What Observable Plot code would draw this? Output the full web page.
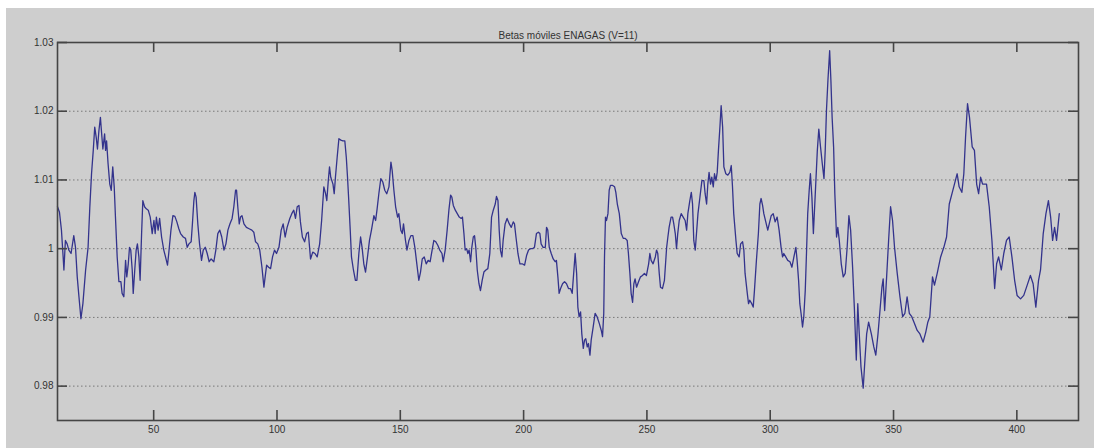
<!DOCTYPE html>
<html><head><meta charset="utf-8">
<script src="https://cdn.jsdelivr.net/npm/d3@7"></script>
<script src="https://cdn.jsdelivr.net/npm/@observablehq/plot@0.6"></script>
<style>
html,body{margin:0;padding:0;background:#fff;width:1094px;height:448px;overflow:hidden}
#chart{position:absolute;left:6px;top:8px;width:1088px;height:440px;background:#cecece}
</style></head><body><div id="chart"></div>
<script>
const title = "Betas móviles ENAGAS (V=11)";
const xTicks = [50, 100, 150, 200, 250, 300, 350, 400];
const yTicks = [0.98, 0.99, 1, 1.01, 1.02, 1.03];
const yTickLabels = ["0.98", "0.99", "1", "1.01", "1.02", "1.03"];
const gridLevels = [0.98, 0.99, 1, 1.01, 1.02];

const t = [
11,11.8,12.6,13.2,13.6,14.2,14.9,15.6,16.5,17.6,18.3,19.0,19.7,20.5,21.3,22.4,23.4,24.1,24.8,25.5,
26.1,26.7,27.2,27.8,28.4,28.8,29.4,30.1,30.5,30.9,31.5,32.2,32.8,33.4,34.0,34.5,35.2,35.9,36.7,37.2,
37.9,38.6,39.1,39.7,40.2,40.7,41.3,41.7,42.4,42.9,43.4,44.0,44.5,45.1,45.6,46.3,47.0,47.8,48.6,49.4,
50.1,50.6,51.1,51.8,52.4,53.2,54.1,54.8,55.6,56.1,57.0,57.8,58.6,59.4,60.2,
60.9,62.0,62.9,63.6,64.3,65.2,65.7,66.3,66.7,67.2,67.9,68.6,69.4,70.1,70.9,71.7,72.5,73.3,74.4,75.2,
76.0,76.8,77.6,78.5,79.3,80.1,80.9,81.8,82.5,83.2,83.6,84.1,84.7,85.2,85.8,86.6,87.6,88.7,89.8,90.6,
91.3,92.2,93.0,93.9,94.7,95.1,95.8,96.6,97.4,98.2,99.0,99.8,100.8,101.7,102.5,103.3,104.1,105.2,106.0,106.8,
107.5,108.2,108.9,109.5,110.3,111.2,112.0,112.7,
113.6,114.5,115.4,116.3,117.3,118.1,119.0,119.7,120.2,120.8,121.3,121.8,122.7,123.2,123.7,124.4,125.1,125.9,126.7,127.5,
128.1,128.6,129.1,129.7,130.2,131.0,131.8,132.4,133.2,133.9,134.5,135.2,135.9,136.7,137.5,138.3,139.3,140.0,140.6,141.3,
142.1,142.9,143.7,144.5,145.4,146.2,146.7,147.4,148.1,148.9,149.4,150.2,150.8,151.3,152.1,152.7,153.5,154.3,155.1,155.9,
156.7,157.5,158.2,158.9,159.7,160.5,161.3,162.1,162.9,
163.6,164.4,165.2,166.0,166.9,167.4,168.2,169.0,169.7,170.4,170.9,171.5,172.3,173.1,173.9,174.7,175.2,175.8,176.3,176.9,
177.4,177.9,178.5,179.0,179.6,180.1,180.6,181.2,181.9,182.5,183.2,183.9,184.7,185.5,186.3,187.0,187.7,188.5,189.0,189.6,
190.1,190.6,191.2,191.7,192.5,193.3,194.2,195.0,195.8,196.3,196.9,197.7,198.5,199.4,200.4,201.2,202.0,202.8,203.6,204.4,
205.2,206.0,206.6,207.1,207.9,208.8,209.3,209.8,210.4,211.2,212.0,212.8,213.3,213.9,214.4,215.0,
215.8,216.6,217.4,218.2,219.0,219.7,220.4,220.9,221.5,222.0,222.5,223.1,223.6,224.2,224.7,225.2,225.8,226.3,226.9,227.4,
228.2,229.0,229.8,230.7,231.5,232.0,232.5,232.8,233.2,233.6,234.2,234.7,235.2,236.1,236.9,237.4,238.0,238.8,239.6,240.4,
241.2,242.0,242.5,243.1,243.6,244.2,244.7,245.2,245.8,246.6,247.4,248.2,249.0,249.8,250.7,251.2,251.7,252.5,253.4,253.9,
254.4,255.0,255.5,256.3,257.1,258.0,258.5,259.0,259.8,260.4,260.9,261.5,262.0,262.5,263.1,263.9,264.7,265.5,266.1,266.6,
267.4,268.0,268.5,269.0,269.6,270.1,270.7,271.5,272.3,273.1,273.6,274.2,274.7,275.2,275.8,276.3,276.9,277.4,278.0,278.5,
279.0,279.6,280.1,280.7,281.2,282.0,282.8,283.6,284.2,284.7,285.2,286.1,286.6,287.4,288.0,288.8,289.3,289.8,290.7,291.2,
291.7,292.5,293.1,293.6,294.4,295.2,295.8,296.3,296.9,297.4,298.2,299.0,299.6,300.4,301.2,302.0,302.8,303.6,304.4,305.0,
305.5,306.3,307.1,308.0,308.8,309.6,310.4,310.9,311.5,312.0,312.5,313.1,313.6,314.2,314.7,315.2,315.8,316.3,316.9,317.5,
318.2,319.1,319.7,320.4,321.1,321.8,322.3,322.8,323.4,324.1,324.6,325.1,325.7,326.2,326.9,327.4,328.0,328.8,329.6,330.4,
331.2,331.9,332.6,333.4,334.1,334.9,335.5,336.1,336.8,337.7,338.4,339.1,339.9,341.0,342.0,342.8,343.7,344.5,345.3,345.8,
346.4,347.2,348.0,348.8,349.6,350.4,351.5,352.6,353.7,354.6,355.5,356.4,357.4,358.5,359.6,360.7,362.0,363.1,363.9,364.7,
365.8,366.6,367.7,369.1,370.4,371.5,372.6,373.7,374.7,375.8,376.6,377.7,378.5,379.2,380.0,380.8,381.9,382.8,383.7,384.5,
385.3,386.1,387.7,388.8,389.9,391.0,391.8,392.6,393.7,394.7,395.8,396.9,398.0,399.1,400.1,401.5,402.8,404.2,405.5,406.6,
407.7,408.8,409.6,410.7,411.8,412.8,413.7,414.5,415.3,416.1,417.2
];

const beta = [
1.0061,1.0053,1.0027,0.9993,0.9969,1.0012,1.0007,0.9998,0.9993,1.0019,1.0002,0.9959,0.9930,0.9898,0.9920,0.9969,1.0002,1.0060,1.0109,1.0143,
1.0177,1.0162,1.0145,1.0172,1.0191,1.0172,1.0145,1.0167,1.0143,1.0157,1.0124,1.0094,1.0085,1.0119,1.0090,1.0046,0.9988,0.9952,0.9952,0.9935,
0.9930,0.9983,0.9959,0.9978,1.0002,0.9998,0.9969,0.9935,0.9973,0.9998,1.0007,0.9988,0.9954,1.0022,1.0070,1.0061,1.0058,1.0056,1.0046,1.0022,
1.0041,1.0022,1.0046,1.0027,1.0044,1.0017,0.9998,0.9988,0.9976,0.9993,1.0027,1.0048,1.0047,1.0039,1.0029,
1.0022,1.0017,1.0015,1.0002,1.0007,1.0010,1.0036,1.0070,1.0082,1.0075,1.0036,1.0007,0.9983,0.9998,1.0002,0.9993,0.9981,0.9985,0.9981,0.9998,
1.0022,1.0027,1.0017,0.9998,1.0007,1.0027,1.0036,1.0044,1.0061,1.0085,1.0085,1.0061,1.0036,1.0046,1.0048,1.0036,1.0031,1.0029,1.0027,1.0024,
1.0010,1.0007,0.9998,0.9973,0.9944,0.9956,0.9976,0.9973,0.9971,0.9988,0.9998,0.9993,1.0002,1.0027,1.0036,1.0017,1.0031,1.0044,1.0051,1.0056,
1.0044,1.0061,1.0063,1.0039,1.0017,1.0010,1.0022,1.0024,
0.9985,0.9995,0.9993,0.9988,1.0007,1.0041,1.0090,1.0080,1.0070,1.0099,1.0119,1.0104,1.0094,1.0080,1.0104,1.0133,1.0160,1.0158,1.0157,1.0157,
1.0133,1.0104,1.0070,1.0027,0.9988,0.9969,0.9954,0.9954,0.9993,1.0017,1.0002,0.9978,0.9966,0.9988,1.0012,1.0027,1.0048,1.0041,1.0058,1.0080,
1.0102,1.0097,1.0085,1.0080,1.0090,1.0126,1.0114,1.0085,1.0061,1.0046,1.0051,1.0027,1.0022,1.0036,1.0012,0.9998,1.0012,1.0019,1.0019,1.0002,
0.9978,0.9954,0.9966,0.9985,0.9988,0.9978,0.9983,0.9981,0.9998,
1.0012,1.0010,1.0005,0.9998,0.9993,0.9981,0.9998,1.0027,1.0056,1.0078,1.0075,1.0063,1.0056,1.0051,1.0046,1.0044,1.0046,1.0022,0.9998,1.0000,
0.9993,0.9998,0.9981,1.0002,1.0017,1.0019,1.0002,0.9969,0.9949,0.9939,0.9954,0.9966,0.9969,0.9971,0.9993,1.0046,1.0056,1.0065,1.0076,1.0070,
1.0027,0.9998,0.9988,1.0012,1.0036,1.0044,1.0036,1.0031,1.0039,1.0036,1.0017,0.9993,0.9978,0.9978,0.9976,0.9990,0.9998,1.0000,1.0000,1.0002,
1.0022,1.0024,1.0022,1.0007,1.0002,1.0002,1.0031,1.0027,1.0002,0.9993,0.9985,0.9981,0.9983,0.9959,0.9935,0.9942,
0.9949,0.9952,0.9949,0.9942,0.9942,0.9935,0.9969,0.9993,0.9964,0.9915,0.9901,0.9908,0.9876,0.9855,0.9867,0.9869,0.9857,0.9862,0.9845,0.9867,
0.9886,0.9906,0.9901,0.9891,0.9881,0.9872,0.9906,0.9988,1.0046,1.0041,1.0051,1.0085,1.0092,1.0092,1.0090,1.0082,1.0065,1.0051,1.0022,1.0015,
1.0015,1.0012,0.9993,0.9964,0.9935,0.9922,0.9949,0.9956,0.9944,0.9952,0.9959,0.9961,0.9964,0.9961,0.9978,0.9993,0.9983,0.9978,0.9988,0.9998,
0.9993,0.9964,0.9944,0.9942,0.9954,1.0002,1.0017,1.0031,1.0046,1.0046,1.0036,1.0022,1.0000,1.0022,1.0041,1.0051,1.0046,1.0041,1.0027,1.0051,
1.0070,1.0082,1.0065,1.0012,0.9998,1.0022,1.0051,1.0075,1.0099,1.0099,1.0080,1.0065,1.0094,1.0111,1.0094,1.0104,1.0090,1.0109,1.0099,1.0111,
1.0143,1.0177,1.0208,1.0177,1.0119,1.0109,1.0107,1.0111,1.0121,1.0090,1.0051,1.0012,0.9993,0.9988,1.0007,1.0010,0.9998,0.9964,0.9935,0.9920,
0.9925,0.9920,0.9915,0.9939,0.9983,1.0022,1.0065,1.0073,1.0063,1.0051,1.0039,1.0027,1.0036,1.0048,1.0051,1.0039,1.0046,1.0027,1.0002,0.9988,
0.9993,0.9988,0.9983,0.9981,0.9973,0.9988,1.0002,0.9983,0.9954,0.9920,0.9906,0.9886,0.9901,0.9939,0.9993,1.0051,1.0085,1.0109,1.0075,1.0022,
1.0075,1.0143,1.0174,1.0148,1.0124,1.0102,1.0143,1.0201,1.0245,1.0288,1.0245,1.0191,1.0148,1.0080,1.0017,1.0031,1.0012,0.9978,0.9959,0.9964,
1.0002,1.0048,1.0027,0.9973,0.9915,0.9838,0.9920,0.9876,0.9828,0.9797,0.9838,0.9876,0.9893,0.9876,0.9857,0.9845,0.9876,0.9910,0.9944,0.9956,
0.9910,0.9959,1.0012,1.0061,1.0041,1.0002,0.9964,0.9930,0.9901,0.9906,0.9930,0.9906,0.9901,0.9891,0.9881,0.9876,0.9864,0.9879,0.9893,0.9901,
0.9959,0.9947,0.9964,0.9988,1.0002,1.0017,1.0065,1.0080,1.0094,1.0109,1.0090,1.0082,1.0109,1.0162,1.0211,1.0191,1.0148,1.0143,1.0094,1.0080,
1.0104,1.0094,1.0094,1.0061,1.0012,0.9942,0.9978,0.9988,0.9969,0.9993,1.0012,1.0017,0.9988,0.9954,0.9932,0.9927,0.9932,0.9947,0.9961,0.9949,
0.9915,0.9954,0.9969,1.0022,1.0051,1.0070,1.0046,1.0012,1.0031,1.0012,1.0051
];

const data = t.map((x, i) => ({t: x, beta: beta[i]}));
const axisInk = "#454545";
const textInk = "#333333";

const W = 1088, H = 440, mL = 51, mR = 16, mT = 34, mB = 28;
const tickLen = 10;
const innerW = W - mL - mR;
const innerH = H - mT - mB;
const tickStyle = {stroke: axisInk, strokeWidth: 1.6};

const chart = Plot.plot({
  width: W,
  height: H,
  marginLeft: mL,
  marginRight: mR,
  marginTop: mT,
  marginBottom: mB,
  style: {background: "#cecece", fontFamily: "'Liberation Sans', Arial, sans-serif", fontSize: "10px", color: textInk},
  x: {domain: [11, 425], axis: null},
  y: {domain: [0.975, 1.03], axis: null},
  marks: [
    Plot.gridY(gridLevels, {stroke: "#707070", strokeOpacity: 0.9, strokeDasharray: "1.5,2.5", strokeWidth: 1}),
    Plot.line(data, {x: "t", y: "beta", stroke: "#33338c", strokeWidth: 1.3}),
    Plot.frame({stroke: axisInk, strokeWidth: 1.6}),
    // inward ticks on all four sides (MATLAB style)
    Plot.tickX(xTicks, {x: (d) => d, insetTop: innerH - tickLen, ...tickStyle}),
    Plot.tickX(xTicks, {x: (d) => d, insetBottom: innerH - tickLen, ...tickStyle}),
    Plot.tickY(yTicks, {y: (d) => d, insetRight: innerW - tickLen, ...tickStyle}),
    Plot.tickY(yTicks, {y: (d) => d, insetLeft: innerW - tickLen, ...tickStyle}),
    Plot.axisX(xTicks, {anchor: "bottom", tickSize: 0, tickPadding: 5, label: null, fill: textInk}),
    Plot.axisY(yTicks, {anchor: "left", tickSize: 0, tickPadding: 4, label: null, fill: textInk,
      tickFormat: (d) => yTickLabels[yTicks.indexOf(d)]}),
    Plot.text([title], {frameAnchor: "top", dy: -11, fontSize: 10, fill: textInk})
  ]
});
document.getElementById("chart").appendChild(chart);
</script>
</body></html>
